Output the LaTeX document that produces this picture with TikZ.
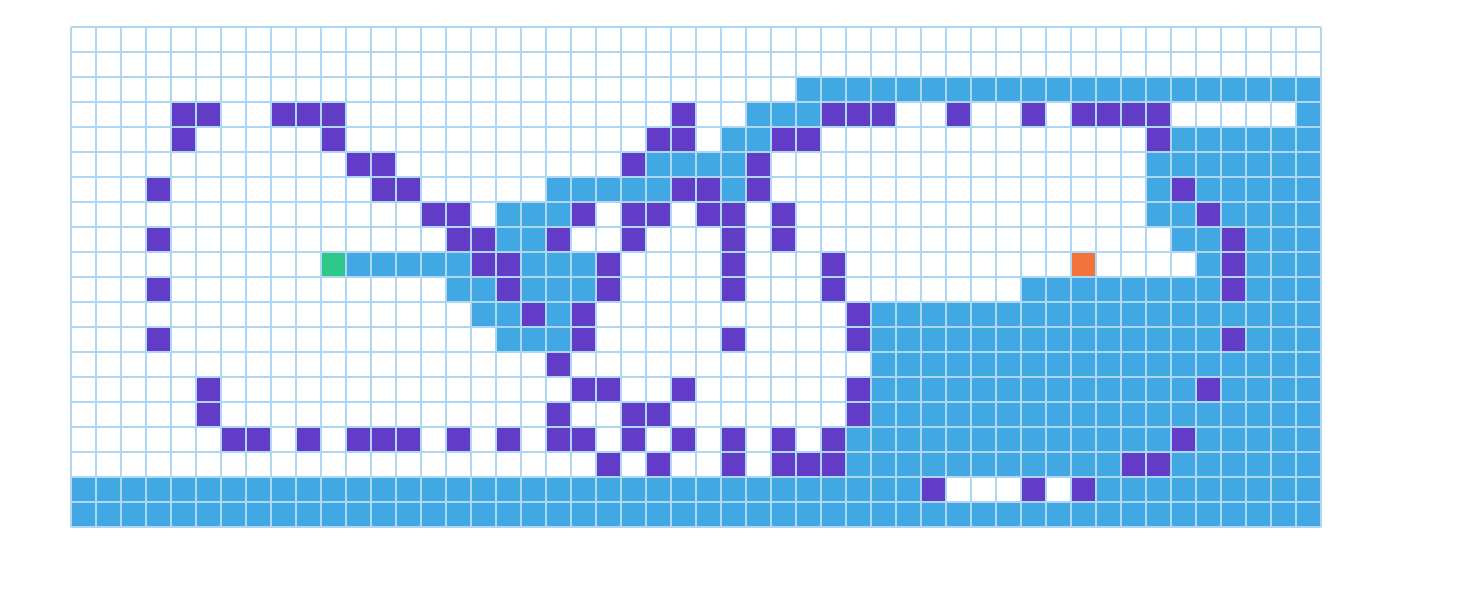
\documentclass[tikz,border=0pt]{standalone}
\usepackage{tikz}
\definecolor{cellblue}{HTML}{42A8E4}
\definecolor{cellpurple}{HTML}{623CC6}
\definecolor{cellgreen}{HTML}{2EC98A}
\definecolor{cellorange}{HTML}{F2743C}
\definecolor{gridline}{HTML}{AED6F5}
\tikzset{
  gcvisit/.style={fill=cellblue},
  gcwall/.style={fill=cellpurple},
  gcstart/.style={fill=cellgreen},
  gcgoal/.style={fill=cellorange},
  gcline/.style={draw=gridline, line width=0.7pt}
}
\begin{document}
\begin{tikzpicture}[x=0.5cm, y=-0.5cm]
  \useasboundingbox (-2.84,-1.08) rectangle (56.2,22.6);
  \fill[white] (0,0) rectangle (50,20);
  % blue runs: row/first/last
  \foreach \r/\a/\b in {2/29/49, 3/27/29, 3/49/49, 4/26/27, 4/44/49,
      5/23/26, 5/43/49, 6/19/23, 6/26/26, 6/43/43, 6/45/49,
      7/17/19, 7/43/44, 7/46/49, 8/17/18, 8/44/45, 8/47/49,
      9/11/15, 9/18/20, 9/45/45, 9/47/49,
      10/15/16, 10/18/20, 10/38/45, 10/47/49,
      11/16/17, 11/19/19, 11/32/49, 12/17/19, 12/32/45, 12/47/49,
      13/32/49, 14/32/44, 14/46/49, 15/32/49, 16/31/43, 16/45/49,
      17/31/41, 17/44/49, 18/0/33, 18/41/49, 19/0/49}
    \fill[gcvisit] (\a,\r) rectangle (\b+1,\r+1);
  % purple cells
  \foreach \r/\cs in {3/{4,5,8,9,10,24,30,31,32,35,38,40,41,42,43},
      4/{4,10,23,24,28,29,43}, 5/{11,12,22,27}, 6/{3,12,13,24,25,27,44},
      7/{14,15,20,22,23,25,26,28,45}, 8/{3,15,16,19,22,26,28,46},
      9/{16,17,21,26,30,46}, 10/{3,17,21,26,30,46}, 11/{18,20,31},
      12/{3,20,26,31,46}, 13/{19}, 14/{5,20,21,24,31,45},
      15/{5,19,22,23,31},
      16/{6,7,9,11,12,13,15,17,19,20,22,24,26,28,30,44},
      17/{21,23,26,28,29,30,42,43}, 18/{34,38,40}} {
    \foreach \c in \cs
      \fill[gcwall] (\c,\r) rectangle ++(1,1);
  }
  \fill[gcstart] (10,9) rectangle ++(1,1);
  \fill[gcgoal] (40,9) rectangle ++(1,1);
  % grid
  \foreach \i in {0,...,50}
    \draw[gcline] (\i,0) -- (\i,20);
  \foreach \j in {0,...,20}
    \draw[gcline] (0,\j) -- (50,\j);
\end{tikzpicture}
\end{document}
